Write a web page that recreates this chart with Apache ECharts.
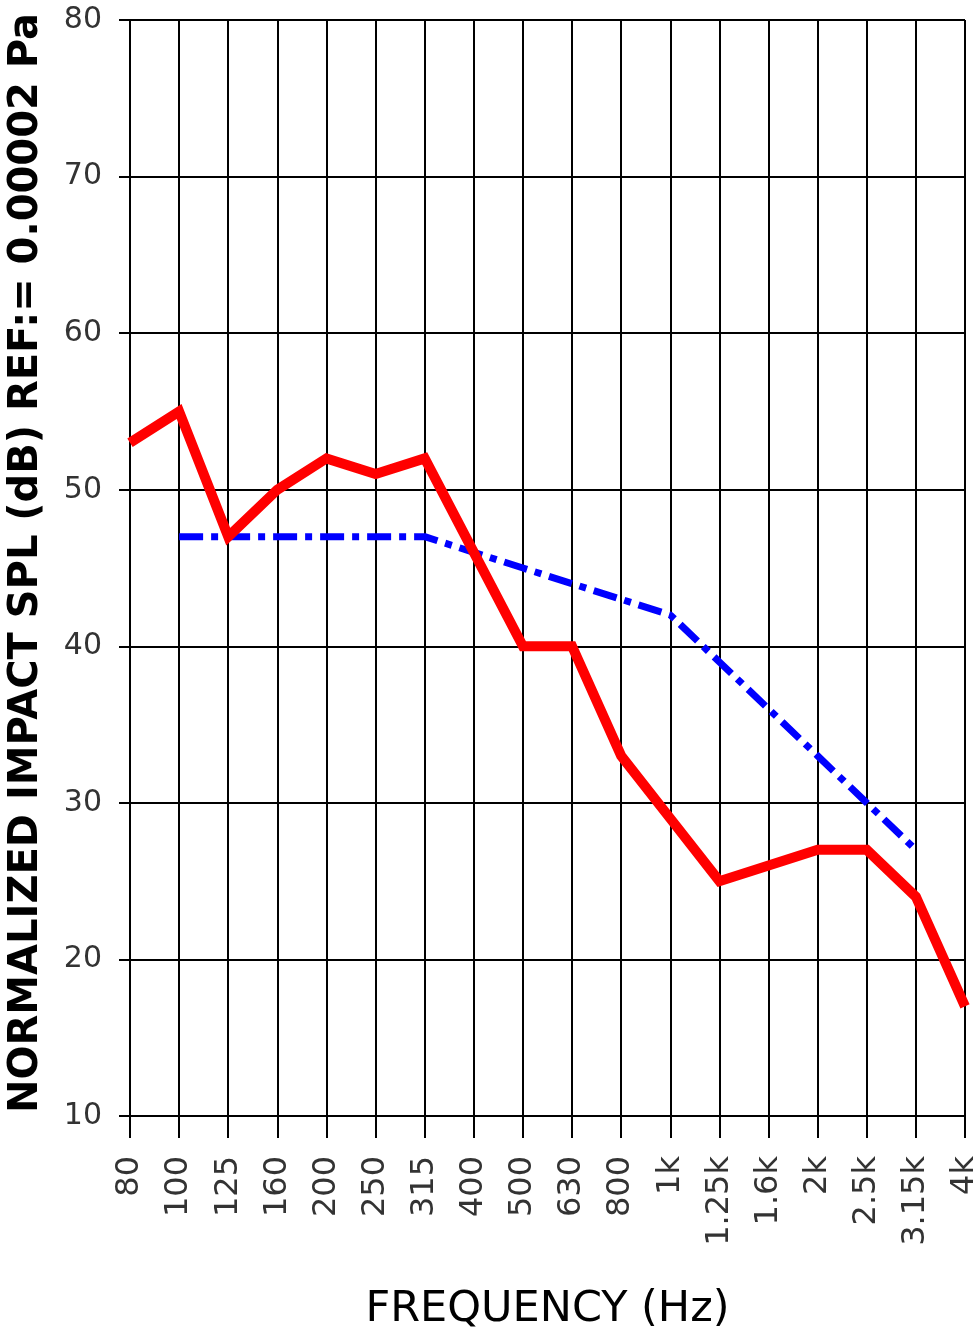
<!DOCTYPE html>
<html>
<head>
<meta charset="utf-8">
<script src="https://cdn.jsdelivr.net/npm/echarts@6/dist/echarts.min.js"></script>
<style>
html,body{margin:0;padding:0;background:#fff;overflow:hidden;}
#chart{width:979px;height:1329px;}
</style>
</head>
<body>
<div id="chart"></div>
<script>
const categories = ['80','100','125','160','200','250','315','400','500','630','800','1k','1.25k','1.6k','2k','2.5k','3.15k','4k'];
const measured = [53,55,47,50,52,51,52,46,40,40,33,29,25,26,27,27,24,17];
const reference = [null,47,47,47,47,47,47,46,45,44,43,42,39,36,33,30,27,null];
const yTicks = [10,20,30,40,50,60,70,80];
const yTitle = 'NORMALIZED IMPACT SPL (dB) REF:= 0.00002 Pa';
const xTitle = 'FREQUENCY (Hz)';

const el = document.getElementById('chart');
const chart = echarts.init(el, null, {renderer:'canvas', width:979, height:1329});
chart.setOption({
  animation:false,
  backgroundColor:'#fff',
  grid:{left:130,right:14,top:20,bottom:213,containLabel:false,outerBoundsMode:'none'},
  xAxis:{
    type:'category',
    data:categories,
    boundaryGap:false,
    name:xTitle,
    nameLocation:'middle',
    nameGap:172,
    nameTextStyle:{fontFamily:'DejaVu Sans',fontSize:43,color:'#000'},
    axisLine:{show:true,lineStyle:{color:'#000',width:2}},
    axisTick:{show:true,interval:0,length:22,lineStyle:{color:'#000',width:2}},
    axisLabel:{interval:0,rotate:90,margin:40,fontFamily:'DejaVu Sans',fontSize:32,color:'#333'},
    splitLine:{show:true,interval:0,lineStyle:{color:'#000',width:2}}
  },
  yAxis:{
    type:'value',
    min:yTicks[0],
    max:yTicks[yTicks.length-1],
    interval:10,
    axisLine:{show:true,lineStyle:{color:'#000',width:2}},
    axisTick:{show:true,length:11,lineStyle:{color:'#000',width:2}},
    axisLabel:{margin:28,fontFamily:'DejaVu Sans',fontSize:30,color:'#333'},
    splitLine:{show:true,lineStyle:{color:'#000',width:2}}
  },
  graphic:[{
    type:'text',
    x:27,y:563,
    rotation:Math.PI/2,
    style:{text:yTitle,font:'bold 40px "DejaVu Sans"',fill:'#000',align:'center',verticalAlign:'middle'}
  }],
  series:[
    {type:'line',data:reference,symbol:'none',connectNulls:false,
     lineStyle:{color:'#0000ff',width:7,type:[24,8,7,8],cap:'butt'},z:3},
    {type:'line',data:measured,symbol:'none',
     lineStyle:{color:'#ff0000',width:10,join:'miter'},z:4}
  ]
});
</script>
</body>
</html>
